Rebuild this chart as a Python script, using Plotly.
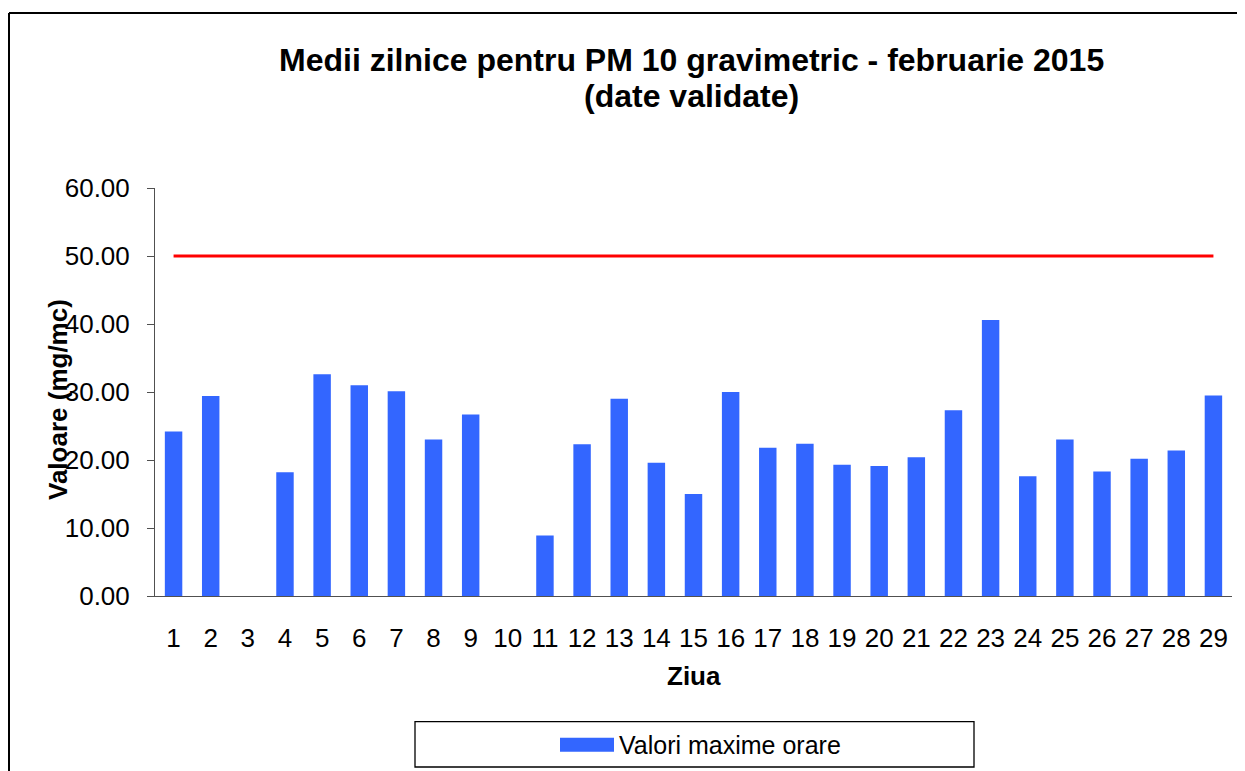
import plotly.graph_objects as go

# ---- data ----
days = [str(d) for d in range(1, 30)]
pm10_values = [24.2, 29.4, None, 18.2, 32.6, 31.0, 30.1, 23.0, 26.7, None,
               8.9, 22.3, 29.0, 19.6, 15.0, 30.0, 21.8, 22.4, 19.3, 19.1,
               20.4, 27.3, 40.6, 17.6, 23.0, 18.3, 20.2, 21.4, 29.5]
limit_values = [50.0] * 29
y_ticks = [0, 10, 20, 30, 40, 50, 60]

title_line1 = "Medii zilnice pentru PM 10 gravimetric - februarie 2015"
title_line2 = "(date validate)"
y_title = "Valoare (mg/mc)"
x_title = "Ziua"
legend_label = "Valori maxime orare"

# ---- layout geometry (page pixels; page has an 8px body offset) ----
OFF = 8
W, H = 1245 - OFF, 771 - OFF
L, R, T, B = 155, 1232, 188, 596   # plot area in page pixels
FONT = "Liberation Sans, Arial, sans-serif"
BAR_COLOR = "#3366FF"


def px_x(x):
    return (x - L) / (R - L)


def px_y(y):
    return (B - y) / (B - T)


fig = go.Figure()
fig.add_trace(go.Bar(x=days, y=pm10_values, name=legend_label,
                     marker=dict(color=BAR_COLOR, line=dict(width=0)),
                     showlegend=False))
fig.add_trace(go.Scatter(x=days, y=limit_values, mode="lines",
                         line=dict(color="#FF0000", width=3),
                         showlegend=False, hoverinfo="skip"))

fig.update_layout(
    width=W, height=H,
    margin=dict(l=L - OFF, r=W - (R - OFF), t=T - OFF, b=H - (B - OFF), pad=0),
    paper_bgcolor="white", plot_bgcolor="white",
    bargap=0.53,
    font=dict(family=FONT, color="black"),
    showlegend=False,
)

fig.update_xaxes(type="category", showline=True, linecolor="#505050", linewidth=1,
                 ticks="", showgrid=False, zeroline=False,
                 tickfont=dict(size=26, family=FONT, color="black"),
                 ticklabelstandoff=19)
fig.update_yaxes(range=[0, 60], tickvals=y_ticks, tickformat=".2f",
                 showline=True, linecolor="#505050", linewidth=1,
                 ticks="outside", ticklen=7, tickcolor="#505050",
                 showgrid=False, zeroline=False,
                 tickfont=dict(size=26, family=FONT, color="black"),
                 ticklabelstandoff=12)

annotations = [
    dict(text="<b>%s</b>" % title_line1, x=px_x(691), y=px_y(59.5),
         font=dict(size=32, family=FONT, color="black")),
    dict(text="<b>%s</b>" % title_line2, x=px_x(691), y=px_y(96),
         font=dict(size=32, family=FONT, color="black")),
    dict(text="<b>%s</b>" % y_title, x=px_x(58), y=px_y(400), textangle=-90,
         font=dict(size=26, family=FONT, color="black")),
    dict(text="<b>%s</b>" % x_title, x=px_x(694), y=px_y(676),
         font=dict(size=26, family=FONT, color="black")),
    dict(text=legend_label, x=px_x(617), y=px_y(745), xanchor="left",
         font=dict(size=25, family=FONT, color="black")),
]
for a in annotations:
    a.setdefault("xanchor", "center")
    a.update(xref="paper", yref="paper", yanchor="middle", showarrow=False)
fig.update_layout(annotations=annotations)

shapes = [
    # outer chart frame: top and left edges (right/bottom fall outside the view)
    dict(type="line", xref="paper", yref="paper",
         x0=px_x(9), x1=px_x(1300), y0=px_y(13), y1=px_y(13),
         line=dict(color="black", width=2)),
    dict(type="line", xref="paper", yref="paper",
         x0=px_x(9), x1=px_x(9), y0=px_y(13), y1=px_y(820),
         line=dict(color="black", width=2)),
    # legend box
    dict(type="rect", xref="paper", yref="paper",
         x0=px_x(415), x1=px_x(974), y0=px_y(721.7), y1=px_y(767),
         line=dict(color="black", width=1.3), fillcolor="white", layer="below"),
    # legend swatch
    dict(type="rect", xref="paper", yref="paper",
         x0=px_x(560), x1=px_x(614), y0=px_y(737.7), y1=px_y(751.7),
         line=dict(width=0), fillcolor=BAR_COLOR),
]
fig.update_layout(shapes=shapes)

fig.write_html("out.html")
